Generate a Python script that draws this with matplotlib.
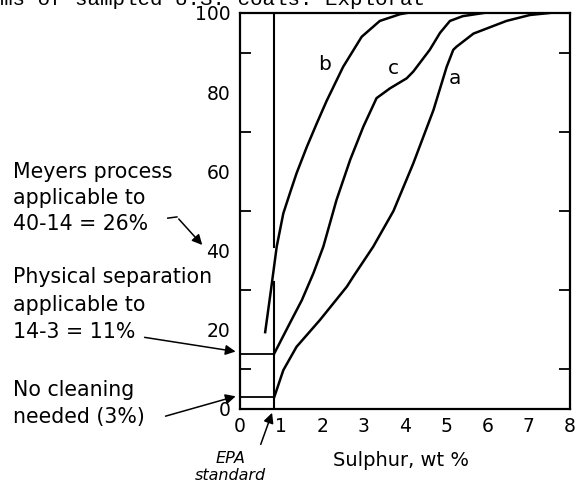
import matplotlib.pyplot as plt

# cumulative coal fraction vs sulphur content
b_x = [0.61, 0.75, 0.89, 1.05, 1.21, 1.37, 1.62, 1.86, 2.1, 2.5, 2.95, 3.39, 3.88, 4.04]
b_y = [19.4, 30.0, 41.0, 49.4, 54.5, 59.5, 66.2, 72.1, 77.8, 86.4, 94.0, 98.0, 99.7, 100.0]

c_x = [0.83, 1.21, 1.5, 1.78, 2.02, 2.34, 2.67, 2.99, 3.31, 3.64, 4.04, 4.2, 4.6, 4.85, 5.09, 5.4, 5.9]
c_y = [14.0, 21.7, 27.5, 34.3, 41.0, 52.8, 62.9, 71.3, 78.5, 81.0, 83.5, 85.2, 90.7, 95.0, 98.0, 99.2, 100.0]

a_x = [0.83, 1.05, 1.37, 1.94, 2.59, 2.75, 3.23, 3.72, 4.2, 4.69, 5.01, 5.17, 5.25, 5.66, 6.46, 7.03, 7.5]
a_y = [3.0, 9.8, 15.7, 22.5, 30.9, 33.5, 41.0, 50.0, 62.0, 75.5, 86.4, 90.7, 91.5, 94.8, 98.0, 99.5, 100.0]

epa = 0.83
levels = [14, 3]

xticks = [0, 1, 2, 3, 4, 5, 6, 7, 8]
yticks = [0, 20, 40, 60, 80, 100]

fig = plt.figure(figsize=(5.78, 4.84), dpi=100)
ax = fig.add_axes([240/578, 1-409/484, 330/578, 396/484])
plt.rcParams['font.family'] = 'DejaVu Sans'

lw = 1.8
ax.plot(b_x, b_y, color='black', lw=lw)
ax.plot(c_x, c_y, color='black', lw=lw)
ax.plot(a_x, a_y, color='black', lw=lw)

# EPA standard line (broken near curve b) and the two level lines
ax.plot([epa, epa], [41, 100], color='black', lw=1.5)
ax.plot([epa, epa], [0, 32], color='black', lw=1.5)
for lv in levels:
    ax.plot([0, epa], [lv, lv], color='black', lw=1.3)

ax.set_xlim(0, 8)
ax.set_ylim(0, 100)
ax.set_xticks(xticks)
ax.set_yticks(yticks)
ax.set_xticks(range(1, 8), minor=True)
ax.set_yticks(range(10, 100, 10), minor=True)
ax.set_xticklabels([str(v) for v in xticks], fontsize=13.5)
ax.set_yticklabels([str(v) for v in yticks], fontsize=13.5)
ax.tick_params(axis='x', which='major', length=0, pad=6)
ax.tick_params(axis='x', which='minor', direction='in', length=11, width=1.3,
               top=True, bottom=True)
ax.tick_params(axis='y', which='both', direction='in', length=8, width=1.3,
               left=True, right=True, pad=7)
ax.tick_params(axis='y', which='major', length=0)
for s in ax.spines.values():
    s.set_linewidth(1.6)

ax.text(2.06, 87, 'b', fontsize=14.5, ha='center', va='center')
ax.text(3.71, 86, 'c', fontsize=14.5, ha='center', va='center')
ax.text(5.21, 83.5, 'a', fontsize=14.5, ha='center', va='center')

ax.text(3.9, -12.9, 'Sulphur, wt %', fontsize=14, ha='center', va='center')
ax.text(-0.24, -12.4, 'EPA', fontsize=11.5, style='italic', ha='center', va='center')
ax.text(-0.24, -16.7, 'standard', fontsize=11.5, style='italic', ha='center', va='center')

tx = -5.5
kw = dict(fontsize=14.8, ha='left', va='center', clip_on=False)
ax.text(tx, 59.8, 'Meyers process', **kw)
ax.text(tx, 53.2, 'applicable to', **kw)
ax.text(tx, 46.8, '40-14 = 26%', **kw)
ax.text(tx, 33.3, 'Physical separation', **kw)
ax.text(tx, 26.3, 'applicable to', **kw)
ax.text(tx, 19.4, '14-3 = 11%', **kw)
ax.text(tx, 4.8, 'No cleaning', **kw)
ax.text(tx, -2.0, 'needed (3%)', **kw)

akw = dict(arrowstyle='-|>', color='black', lw=1.1, mutation_scale=15)
ax.plot([-1.75, -1.53], [48.2, 48.5], color='black', lw=1.1, clip_on=False)
ax.annotate('', xy=(-0.87, 40.9), xytext=(-1.53, 48.5), arrowprops=akw,
            annotation_clip=False)
ax.annotate('', xy=(-0.04, 14.4), xytext=(-2.38, 18.2), arrowprops=akw,
            annotation_clip=False)
ax.annotate('', xy=(-0.04, 3.4), xytext=(-1.87, -2.0), arrowprops=akw,
            annotation_clip=False)
ax.annotate('', xy=(0.8, -0.3), xytext=(0.48, -9.6), arrowprops=akw,
            annotation_clip=False)

# caption fragment from the page above, cut by the top edge
fig.text(0.0, 484 - 5, 'ms of sampled U.S. coals. Explorat', transform=None,
         family='Liberation Mono', fontsize=15, ha='left', va='baseline')

fig.savefig('out.png', dpi=100)
